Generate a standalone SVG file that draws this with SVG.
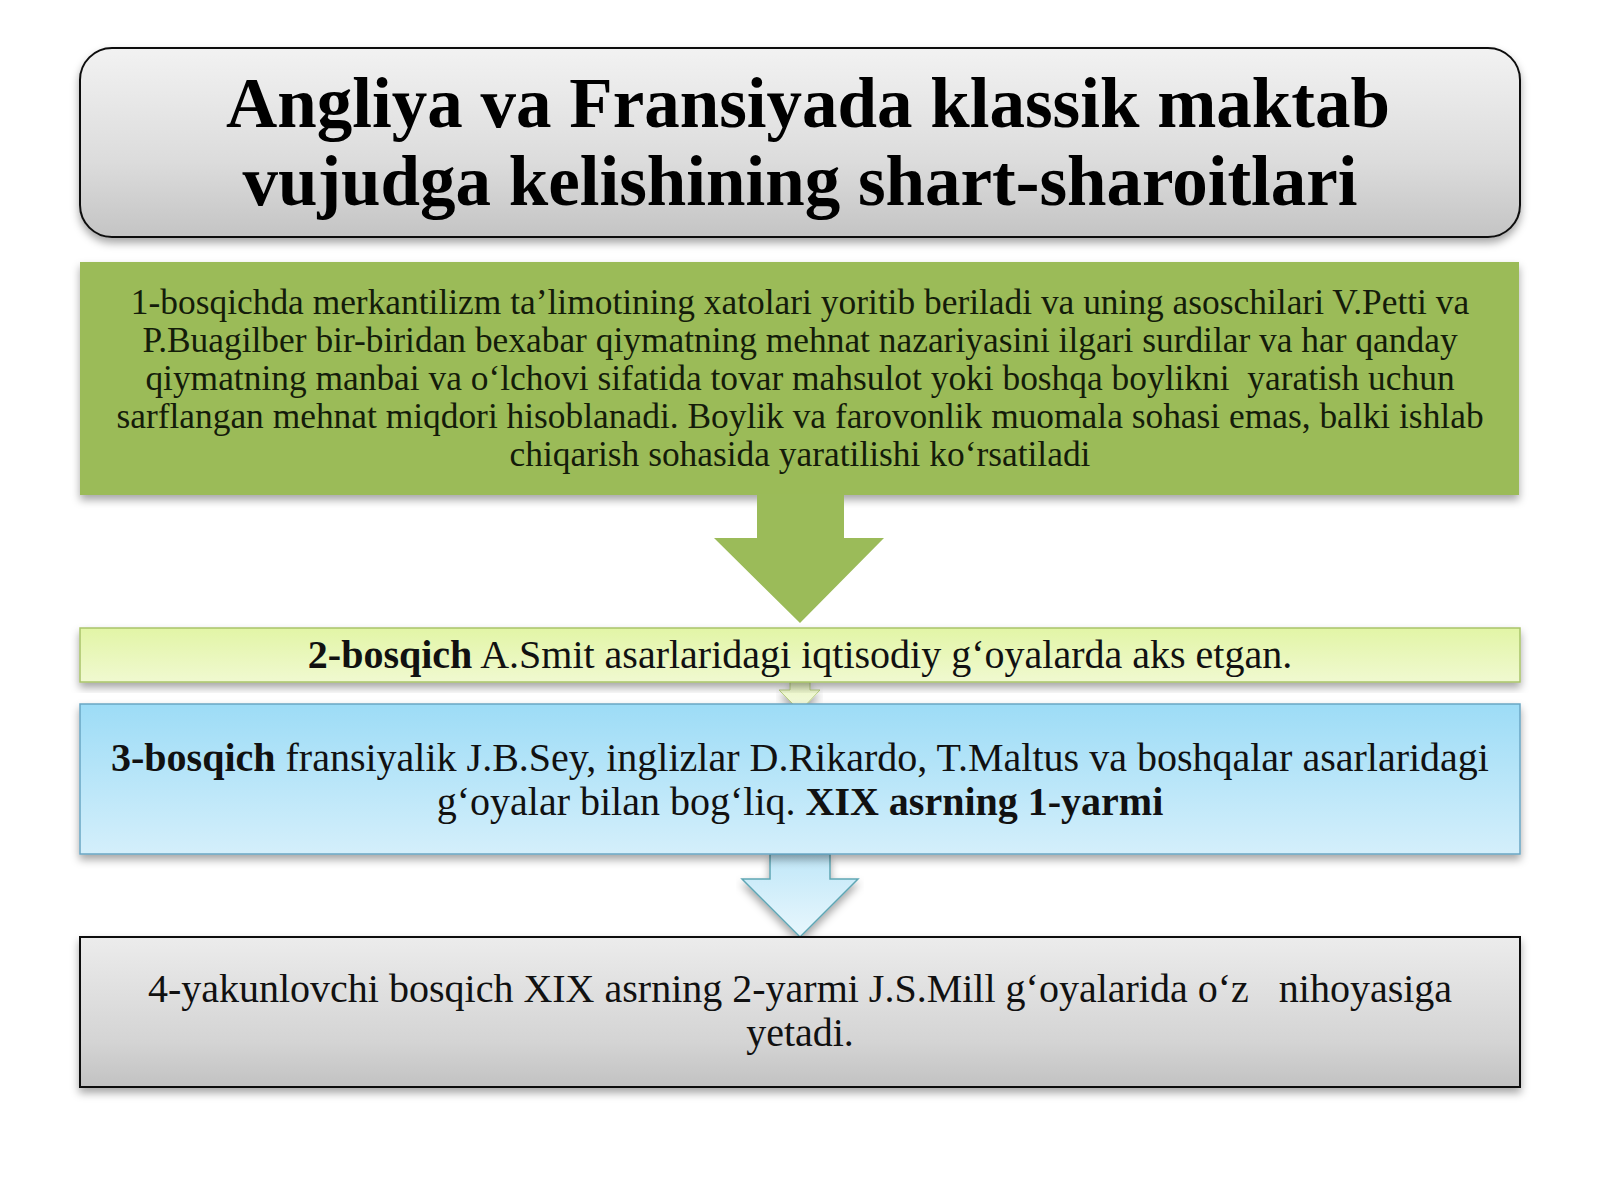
<svg xmlns="http://www.w3.org/2000/svg" width="1600" height="1200" viewBox="0 0 1600 1200">
<defs>
<linearGradient id="gTitle" x1="0" y1="0" x2="0" y2="1">
<stop offset="0" stop-color="#f2f2f2"/><stop offset="0.6" stop-color="#dcdcdc"/><stop offset="1" stop-color="#c4c4c4"/>
</linearGradient>
<linearGradient id="gBox2" x1="0" y1="0" x2="0" y2="1">
<stop offset="0" stop-color="#e2f5a6"/><stop offset="1" stop-color="#f0f9d0"/>
</linearGradient>
<linearGradient id="gBox3" x1="0" y1="0" x2="0" y2="1">
<stop offset="0" stop-color="#9ddcf6"/><stop offset="1" stop-color="#d4effb"/>
</linearGradient>
<linearGradient id="gBox4" x1="0" y1="0" x2="0" y2="1">
<stop offset="0" stop-color="#ececec"/><stop offset="0.7" stop-color="#d4d4d4"/><stop offset="1" stop-color="#c2c2c2"/>
</linearGradient>
<linearGradient id="gArr2" x1="0" y1="0" x2="0" y2="1">
<stop offset="0" stop-color="#eaf6c4"/><stop offset="1" stop-color="#f4fae0"/>
</linearGradient>
<linearGradient id="gArr3" x1="0" y1="0" x2="0" y2="1">
<stop offset="0" stop-color="#c0e7f8"/><stop offset="1" stop-color="#e8f7fd"/>
</linearGradient>
<filter id="sh" x="-5%" y="-10%" width="110%" height="130%">
<feDropShadow dx="0" dy="5" stdDeviation="4" flood-color="#000" flood-opacity="0.35"/>
</filter>
</defs>
<style>
text{font-family:"Liberation Serif","Times New Roman",serif;text-anchor:middle;fill:#111;}
.title{font-size:71px;font-weight:bold;fill:#000;}
.g{font-size:35.4px;fill:#141c0a;}
.m{font-size:40px;}
.b{font-weight:bold;}
</style>
<rect width="1600" height="1200" fill="#ffffff"/>

<g id="title">
<rect x="80" y="48" width="1440" height="189" rx="32" ry="32" fill="url(#gTitle)" stroke="#111" stroke-width="2" filter="url(#sh)"/>
<text class="title" x="808" y="127">Angliya va Fransiyada klassik maktab</text>
<text class="title" x="800" y="205">vujudga kelishining shart-sharoitlari</text>
</g>

<g id="stage1">
<rect x="80" y="262" width="1439" height="233" fill="#9bbb59" filter="url(#sh)"/>
<text class="g" x="800" y="314">1-bosqichda merkantilizm ta’limotining xatolari yoritib beriladi va uning asoschilari V.Petti va</text>
<text class="g" x="800" y="352">P.Buagilber bir-biridan bexabar qiymatning mehnat nazariyasini ilgari surdilar va har qanday</text>
<text class="g" x="800" y="390" xml:space="preserve">qiymatning manbai va o‘lchovi sifatida tovar mahsulot yoki boshqa boylikni  yaratish uchun</text>
<text class="g" x="800" y="428">sarflangan mehnat miqdori hisoblanadi. Boylik va farovonlik muomala sohasi emas, balki ishlab</text>
<text class="g" x="800" y="466">chiqarish sohasida yaratilishi ko‘rsatiladi</text>
</g>

<g id="connectors">
<polygon points="757,494 844,494 844,538 884,538 800,623 714,538 757,538" fill="#9bbb59"/>
<polygon points="790,682 810,682 810,690 820,690 800,711 779,690 790,690" fill="url(#gArr2)" stroke="#b9cf83" stroke-width="1" filter="url(#sh)"/>
<polygon points="770,854 830,854 830,879 858,879 800,937 742,879 770,879" fill="url(#gArr3)" stroke="#5fa6b4" stroke-width="1.5" filter="url(#sh)"/>
</g>

<g id="stage2">
<rect x="80" y="628" width="1440" height="54" fill="url(#gBox2)" stroke="#a9c46a" stroke-width="1.5" filter="url(#sh)"/>
<text class="m" x="800" y="668"><tspan class="b">2-bosqich</tspan> A.Smit asarlaridagi iqtisodiy g‘oyalarda aks etgan.</text>
</g>

<g id="stage3">
<rect x="80" y="704" width="1440" height="150" fill="url(#gBox3)" stroke="#6aa6c4" stroke-width="1.5" filter="url(#sh)"/>
<text class="m" x="800" y="771"><tspan class="b">3-bosqich</tspan> fransiyalik J.B.Sey, inglizlar D.Rikardo, T.Maltus va boshqalar asarlaridagi</text>
<text class="m" x="800" y="815">g‘oyalar bilan bog‘liq. <tspan class="b">XIX asrning 1-yarmi</tspan></text>
</g>

<g id="stage4">
<rect x="80" y="937" width="1440" height="150" fill="url(#gBox4)" stroke="#111" stroke-width="2" filter="url(#sh)"/>
<text class="m" x="800" y="1002" xml:space="preserve">4-yakunlovchi bosqich XIX asrning 2-yarmi J.S.Mill g‘oyalarida o‘z   nihoyasiga</text>
<text class="m" x="800" y="1046">yetadi.</text>
</g>
</svg>
